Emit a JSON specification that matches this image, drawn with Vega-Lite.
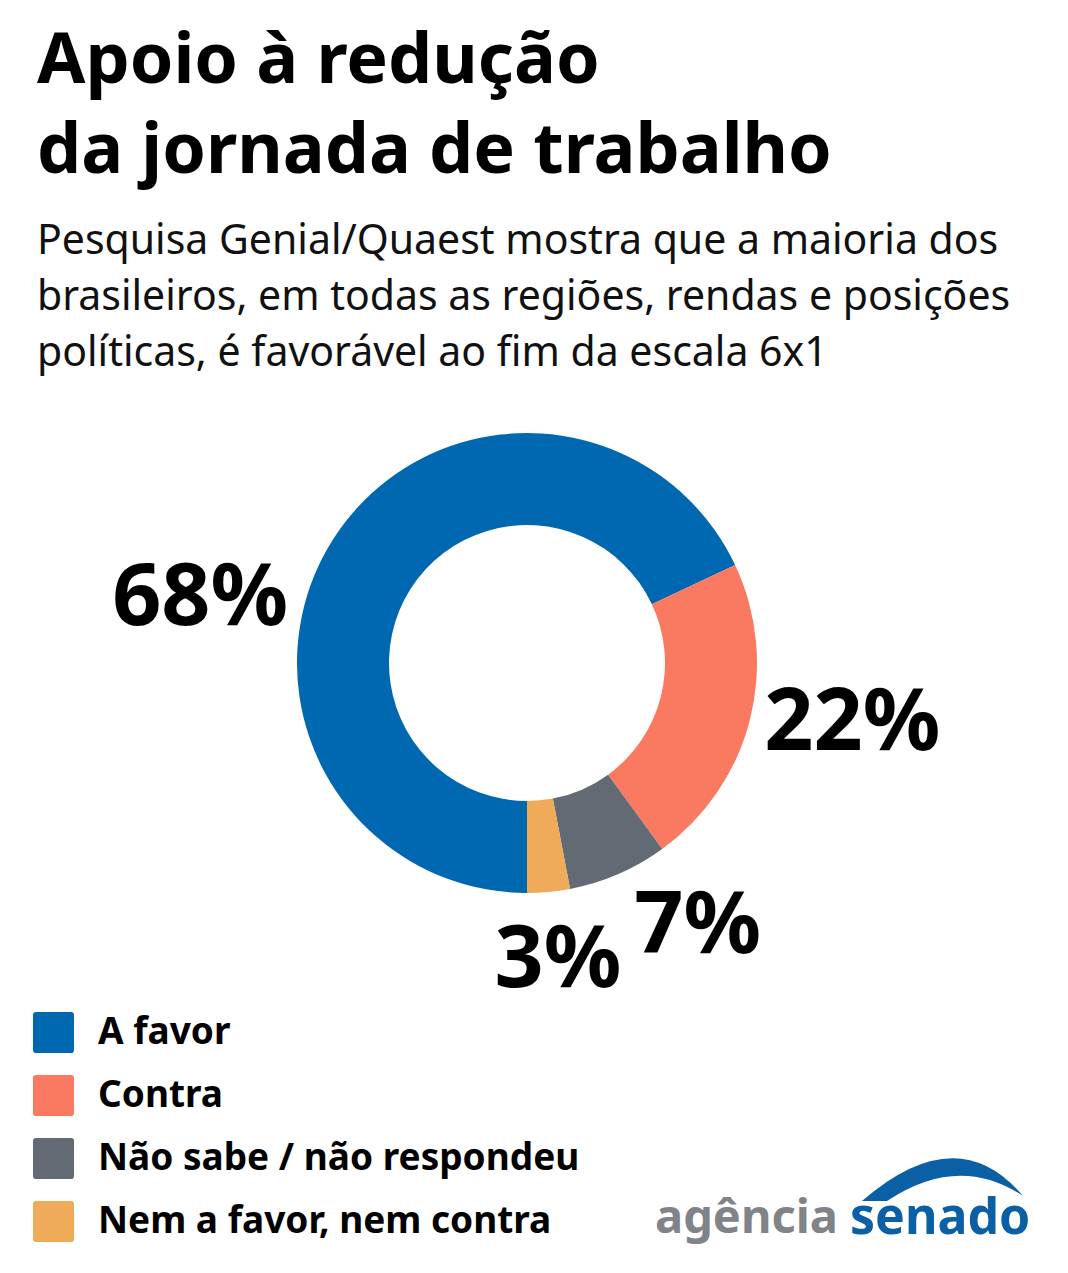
{
  "$schema": "https://vega.github.io/schema/vega-lite/v6.json",
  "width": 980,
  "height": 526,
  "autosize": {"type": "none"},
  "padding": {"left": 37, "top": 400, "right": 51, "bottom": 347},
  "background": "white",
  "config": {"view": {"stroke": null}, "font": "Noto Sans"},
  "title": {
    "text": ["Apoio à redução", "da jornada de trabalho"],
    "subtitle": ["Pesquisa Genial/Quaest mostra que a maioria dos", "brasileiros, em todas as regiões, rendas e posições", "políticas, é favorável ao fim da escala 6x1"],
    "anchor": "start",
    "frame": "group",
    "font": "Noto Sans",
    "fontSize": 70,
    "fontWeight": "bold",
    "color": "#000000",
    "lineHeight": 90,
    "subtitleFont": "Noto Sans",
    "subtitleFontSize": 41,
    "subtitleColor": "#111111",
    "subtitleLineHeight": 56,
    "subtitlePadding": 34,
    "offset": 25
  },
  "data": {
    "values": [
      {"cat": "A favor", "pct": 68, "label": "68%"},
      {"cat": "Contra", "pct": 22, "label": "22%"},
      {"cat": "Não sabe / não respondeu", "pct": 7, "label": "7%"},
      {"cat": "Nem a favor, nem contra", "pct": 3, "label": "3%"}
    ]
  },
  "layer": [
    {
      "mark": {"type": "arc", "innerRadius": 138, "outerRadius": 230},
      "encoding": {
        "theta": {"field": "pct", "type": "quantitative", "stack": true, "scale": {"range": [3.141592653589793, 9.42477796076938]}},
        "order": {"field": "pct", "type": "quantitative", "sort": "descending"},
        "color": {
          "field": "cat",
          "type": "nominal",
          "scale": {
            "domain": ["A favor", "Contra", "Não sabe / não respondeu", "Nem a favor, nem contra"],
            "range": ["#0067b1", "#fa7a61", "#626b73", "#efaa5a"]
          },
          "legend": {
            "orient": "none",
            "legendX": -4,
            "legendY": 612,
            "title": null,
            "padding": 0,
            "direction": "vertical",
            "symbolType": "M -0.85 -1 H 0.85 Q 1 -1 1 -0.85 V 0.85 Q 1 1 0.85 1 H -0.85 Q -1 1 -1 0.85 V -0.85 Q -1 -1 -0.85 -1 Z",
            "symbolSize": 1681,
            "symbolStrokeWidth": 0,
            "symbolOpacity": 1,
            "labelFont": "Noto Sans",
            "labelFontSize": 37,
            "labelFontWeight": "bold",
            "labelColor": "#000000",
            "labelOffset": 24,
            "labelLimit": 1000,
            "rowPadding": 22
          }
        }
      }
    },
    {
      "mark": {"type": "text", "radius": 333, "thetaOffset": -0.3735, "fontSize": 86, "fontWeight": "bold", "font": "Noto Sans", "color": "#000000", "align": "center", "baseline": "middle"},
      "encoding": {
        "theta": {"field": "pct", "type": "quantitative", "stack": true},
        "order": {"field": "pct", "type": "quantitative", "sort": "descending"},
        "text": {"condition": {"test": "datum.cat === 'A favor'", "field": "label", "type": "nominal"}, "value": ""}
      }
    },
    {
      "mark": {"type": "text", "radius": 331, "thetaOffset": -0.0646, "fontSize": 86, "fontWeight": "bold", "font": "Noto Sans", "color": "#000000", "align": "center", "baseline": "middle"},
      "encoding": {
        "theta": {"field": "pct", "type": "quantitative", "stack": true},
        "order": {"field": "pct", "type": "quantitative", "sort": "descending"},
        "text": {"condition": {"test": "datum.cat === 'Contra'", "field": "label", "type": "nominal"}, "value": ""}
      }
    },
    {
      "mark": {"type": "text", "radius": 314, "thetaOffset": -0.166, "fontSize": 86, "fontWeight": "bold", "font": "Noto Sans", "color": "#000000", "align": "center", "baseline": "middle"},
      "encoding": {
        "theta": {"field": "pct", "type": "quantitative", "stack": true},
        "order": {"field": "pct", "type": "quantitative", "sort": "descending"},
        "text": {"condition": {"test": "datum.cat === 'Não sabe / não respondeu'", "field": "label", "type": "nominal"}, "value": ""}
      }
    },
    {
      "mark": {"type": "text", "radius": 300, "thetaOffset": -0.009, "fontSize": 86, "fontWeight": "bold", "font": "Noto Sans", "color": "#000000", "align": "center", "baseline": "middle"},
      "encoding": {
        "theta": {"field": "pct", "type": "quantitative", "stack": true},
        "order": {"field": "pct", "type": "quantitative", "sort": "descending"},
        "text": {"condition": {"test": "datum.cat === 'Nem a favor, nem contra'", "field": "label", "type": "nominal"}, "value": ""}
      }
    },
    {
      "data": {"values": [{"brand": "senado"}]},
      "mark": {"type": "point", "opacity": 0, "filled": true, "size": 100, "color": "#0b5fa5"},
      "encoding": {
        "shape": {
          "field": "brand",
          "type": "nominal",
          "scale": {"range": ["M 6.8 -3.6 Q 25.9 -20.2 39 -4.6 Q 26.2 -13.2 11.8 -3.6 Z"]},
          "legend": {
            "orient": "none",
            "legendX": 618,
            "legendY": 794,
            "padding": 0,
            "title": "agência",
            "titleOrient": "left",
            "titleFont": "Noto Sans",
            "titleFontSize": 47,
            "titleFontWeight": "bold",
            "titleColor": "#808488",
            "titleBaseline": "middle",
            "titlePadding": -35,
            "titleLimit": 1000,
            "symbolSize": 100,
            "labelFont": "Noto Sans",
            "labelFontSize": 50,
            "labelFontWeight": "bold",
            "labelColor": "#0b5fa5",
            "labelOffset": -3,
            "labelLimit": 1000,
            "encode": {
              "symbols": {"update": {"fill": {"value": "#0b5fa5"}, "strokeWidth": {"value": 0}, "opacity": {"value": 1}, "fillOpacity": {"value": 1}}}
            }
          }
        }
      }
    }
  ]
}
